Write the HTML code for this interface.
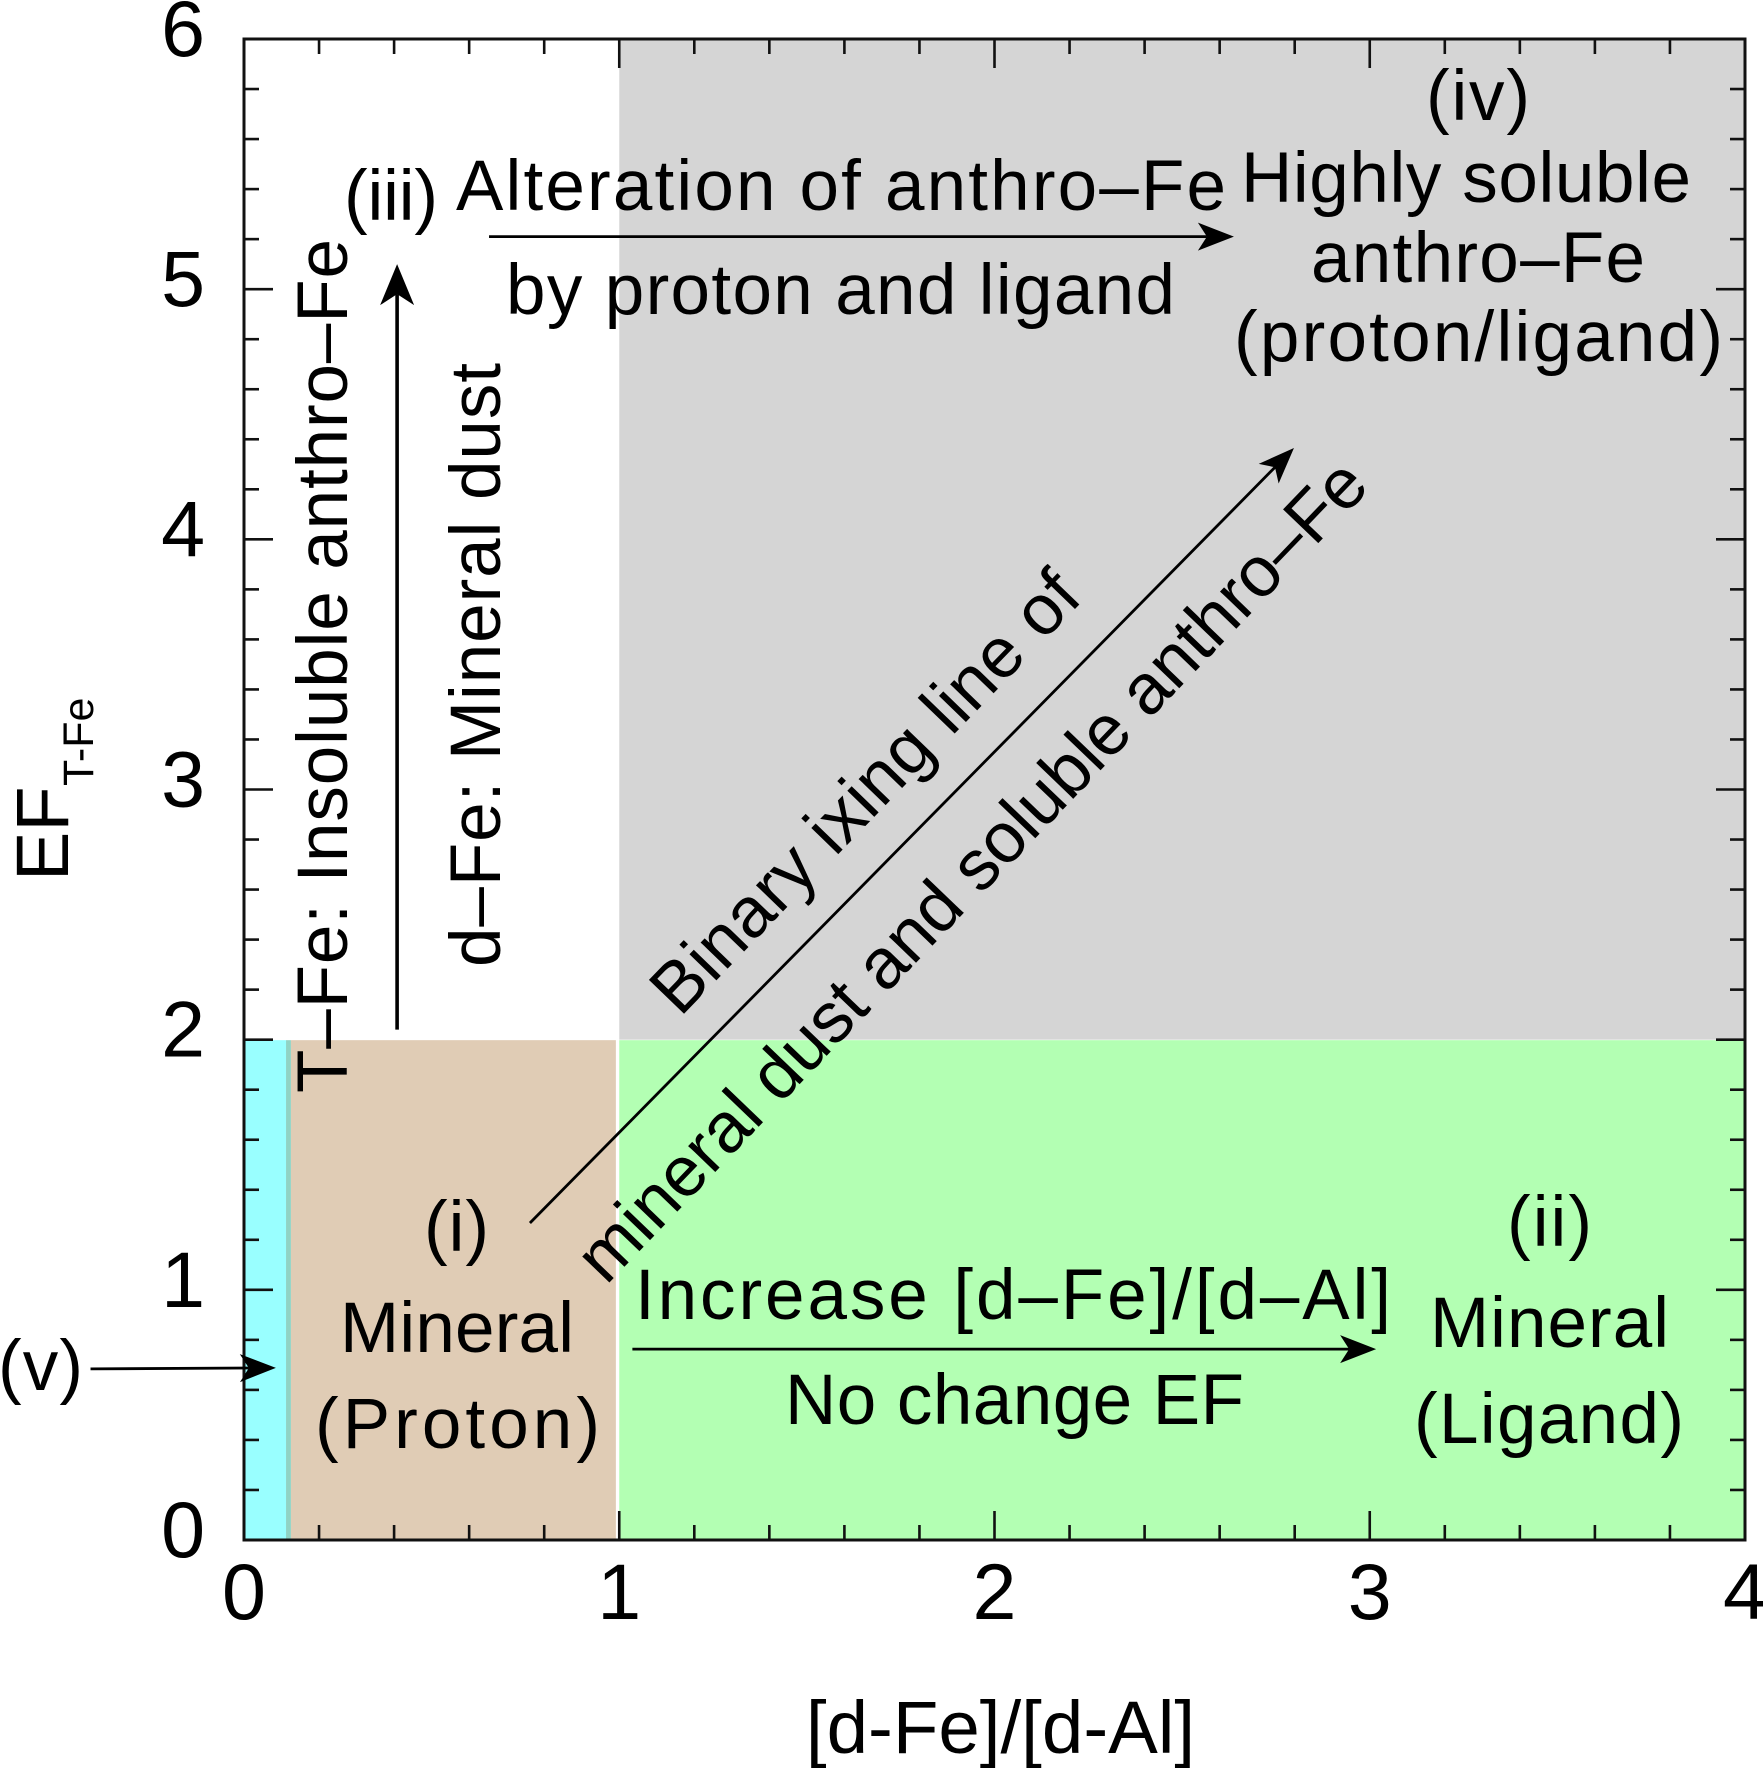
<!DOCTYPE html>
<html lang="en">
<head>
<meta charset="utf-8">
<title>EF T-Fe versus d-Fe/d-Al diagram</title>
<style>
html,body{margin:0;padding:0;background:#fff;width:1763px;height:1768px;overflow:hidden}
svg{display:block}
text{font-family:"Liberation Sans",Arial,sans-serif;fill:#000}
.note{font-size:71px}
.tick{font-size:79px}
</style>
</head>
<body>
<svg id="chart" xmlns="http://www.w3.org/2000/svg" width="1763" height="1768" viewBox="0 0 1763 1768">
  <g id="regions"></g>
  <g id="ticks"></g>
  <rect id="frame" fill="none" stroke="#111" stroke-width="3"></rect>
  <g id="arrows"></g>
  <g id="tick-labels"></g>

  <text x="1000.5" y="1753" font-size="74.5" text-anchor="middle">[d-Fe]/[d-Al]</text>
  <text transform="translate(68 881) rotate(-90)" font-size="74">EF</text>
  <text transform="translate(93 786) rotate(-90)" font-size="43">T-Fe</text>

  <text class="note" x="344" y="220" textLength="94" lengthAdjust="spacing">(iii)</text>
  <text class="note" x="456" y="210" textLength="770" lengthAdjust="spacing">Alteration of anthro–Fe</text>
  <text class="note" x="506" y="314" textLength="669" lengthAdjust="spacing">by proton and ligand</text>
  <text class="note" x="1426" y="120" textLength="104" lengthAdjust="spacing">(iv)</text>
  <text class="note" x="1241" y="202" textLength="450" lengthAdjust="spacing">Highly soluble</text>
  <text class="note" x="1311" y="282" textLength="334" lengthAdjust="spacing">anthro–Fe</text>
  <text class="note" x="1234" y="361" textLength="489" lengthAdjust="spacing">(proton/ligand)</text>

  <text class="note" transform="translate(347 1093) rotate(-90)" textLength="854" lengthAdjust="spacing">T–Fe: Insoluble anthro–Fe</text>
  <text class="note" transform="translate(500 967) rotate(-90)" textLength="604" lengthAdjust="spacing">d–Fe: Mineral dust</text>

  <text class="note" transform="translate(680 1018) rotate(-46)" textLength="582" lengthAdjust="spacing">Binary ixing line of</text>
  <text class="note" transform="translate(606 1286) rotate(-46.2)" textLength="1106" lengthAdjust="spacing">mineral dust and soluble anthro–Fe</text>

  <text class="note" x="424" y="1251" textLength="65" lengthAdjust="spacing">(i)</text>
  <text class="note" x="340" y="1352" textLength="234" lengthAdjust="spacing">Mineral</text>
  <text class="note" x="315" y="1448" textLength="285" lengthAdjust="spacing">(Proton)</text>
  <text class="note" x="-2" y="1390" textLength="85" lengthAdjust="spacing">(v)</text>

  <text class="note" x="635" y="1319" textLength="756" lengthAdjust="spacing">Increase [d–Fe]/[d–Al]</text>
  <text class="note" x="785" y="1424" textLength="459" lengthAdjust="spacing">No change EF</text>
  <text class="note" x="1507" y="1246" textLength="85" lengthAdjust="spacing">(ii)</text>
  <text class="note" x="1430" y="1347" textLength="239" lengthAdjust="spacing">Mineral</text>
  <text class="note" x="1414" y="1443" textLength="270" lengthAdjust="spacing">(Ligand)</text>
</svg>
<script>
const xTickValues = [0, 1, 2, 3, 4];
const yTickValues = [0, 1, 2, 3, 4, 5, 6];
const xTickLabels = ["0", "1", "2", "3", "4"];
const yTickLabels = ["0", "1", "2", "3", "4", "5", "6"];
const xMinorValues = [0.2, 0.4, 0.6, 0.8, 1.2, 1.4, 1.6, 1.8, 2.2, 2.4, 2.6, 2.8, 3.2, 3.4, 3.6, 3.8];
const yMinorValues = [0.2, 0.4, 0.6, 0.8, 1.2, 1.4, 1.6, 1.8, 2.2, 2.4, 2.6, 2.8, 3.2, 3.4, 3.6, 3.8, 4.2, 4.4, 4.6, 4.8, 5.2, 5.4, 5.6, 5.8];

const regionNames = ["gray-region-iv", "green-region-ii", "tan-region-i", "cyan-region-v", "overlap-stripe"];
const regionXStart = [1, 1, 0.125, 0, 0.112];
const regionXEnd = [4, 4, 0.991, 0.112, 0.125];
const regionYStart = [2, 0, 0, 0, 0];
const regionYEnd = [6, 1.998, 1.998, 1.998, 1.998];
const regionColors = ["#d5d5d5", "#b3ffb3", "#e0ccb5", "#99ffff", "#8fd3c4"];

const arrowNames = ["vertical-arrow", "alteration-arrow", "binary-mixing-arrow", "increase-ratio-arrow", "region-v-arrow"];
const arrowFromX = [0.408, 0.653, 0.762, 1.035, -0.409];
const arrowFromY = [2.04, 5.21, 1.267, 0.763, 0.684];
const arrowToX = [0.408, 2.638, 2.798, 3.017, 0.085];
const arrowToY = [5.10, 5.21, 4.365, 0.763, 0.688];

const SVGNS = "http://www.w3.org/2000/svg";
const xMin = 0, xMax = 4, yMin = 0, yMax = 6;
const plotLeft = 244, plotRight = 1745, plotTop = 39, plotBottom = 1540;
function xScale(v) { return plotLeft + (v - xMin) / (xMax - xMin) * (plotRight - plotLeft); }
function yScale(v) { return plotBottom - (v - yMin) / (yMax - yMin) * (plotBottom - plotTop); }

const frame = document.getElementById("frame");
frame.setAttribute("x", xScale(xMin));
frame.setAttribute("y", yScale(yMax));
frame.setAttribute("width", xScale(xMax) - xScale(xMin));
frame.setAttribute("height", yScale(yMin) - yScale(yMax));

const regionLayer = document.getElementById("regions");
regionNames.forEach(function (name, i) {
  const r = document.createElementNS(SVGNS, "rect");
  
  
  r.setAttribute("x", xScale(regionXStart[i]));
  r.setAttribute("y", yScale(regionYEnd[i]));
  r.setAttribute("width", xScale(regionXEnd[i]) - xScale(regionXStart[i]));
  r.setAttribute("height", yScale(regionYStart[i]) - yScale(regionYEnd[i]));
  r.setAttribute("fill", regionColors[i]);
  regionLayer.appendChild(r);
});

const tickLayer = document.getElementById("ticks");
function addTick(x1, y1, x2, y2) {
  const t = document.createElementNS(SVGNS, "line");
  
  
  t.setAttribute("x1", x1);
  t.setAttribute("y1", y1);
  t.setAttribute("x2", x2);
  t.setAttribute("y2", y2);
  t.setAttribute("stroke", "#111");
  t.setAttribute("stroke-width", "2.6");
  tickLayer.appendChild(t);
}
function addXTicks(values, len) {
  values.forEach(function (v) {
    addTick(xScale(v), plotBottom, xScale(v), plotBottom - len);
    addTick(xScale(v), plotTop, xScale(v), plotTop + len);
  });
}
function addYTicks(values, len) {
  values.forEach(function (v) {
    addTick(plotLeft, yScale(v), plotLeft + len, yScale(v));
    addTick(plotRight, yScale(v), plotRight - len, yScale(v));
  });
}
addXTicks(xTickValues, 29);
addXTicks(xMinorValues, 15);
addYTicks(yTickValues, 29);
addYTicks(yMinorValues, 15);

const labelLayer = document.getElementById("tick-labels");
xTickValues.forEach(function (v, i) {
  const t = document.createElementNS(SVGNS, "text");
  
  
  t.setAttribute("class", "tick");
  t.setAttribute("x", xScale(v));
  t.setAttribute("y", 1619);
  t.setAttribute("text-anchor", "middle");
  t.textContent = xTickLabels[i];
  labelLayer.appendChild(t);
});
yTickValues.forEach(function (v, i) {
  const t = document.createElementNS(SVGNS, "text");
  
  
  t.setAttribute("class", "tick");
  t.setAttribute("x", 205);
  t.setAttribute("y", yScale(v) + 17);
  t.setAttribute("text-anchor", "end");
  t.textContent = yTickLabels[i];
  labelLayer.appendChild(t);
});

const arrowLayer = document.getElementById("arrows");
arrowNames.forEach(function (name, i) {
  const x1 = xScale(arrowFromX[i]), y1 = yScale(arrowFromY[i]);
  const x2 = xScale(arrowToX[i]), y2 = yScale(arrowToY[i]);
  const dx = x2 - x1, dy = y2 - y1, len = Math.sqrt(dx * dx + dy * dy);
  const ux = dx / len, uy = dy / len;
  const big = i === 0;
  const headLen = big ? 41 : 36, headHalf = big ? 17 : 14, notch = big ? 11 : 9;
  const line = document.createElementNS(SVGNS, "line");
  
  
  line.setAttribute("x1", x1);
  line.setAttribute("y1", y1);
  line.setAttribute("x2", x2 - ux * (headLen - notch));
  line.setAttribute("y2", y2 - uy * (headLen - notch));
  line.setAttribute("stroke", "#000");
  line.setAttribute("stroke-width", big ? "3.6" : "2.8");
  arrowLayer.appendChild(line);
  const bx = x2 - ux * headLen, by = y2 - uy * headLen;
  const nx = x2 - ux * (headLen - notch), ny = y2 - uy * (headLen - notch);
  const head = document.createElementNS(SVGNS, "polygon");
  
  
  head.setAttribute("points", [
    x2 + "," + y2,
    (bx - uy * headHalf) + "," + (by + ux * headHalf),
    nx + "," + ny,
    (bx + uy * headHalf) + "," + (by - ux * headHalf)
  ].join(" "));
  head.setAttribute("fill", "#000");
  arrowLayer.appendChild(head);
});
</script>
</body>
</html>
